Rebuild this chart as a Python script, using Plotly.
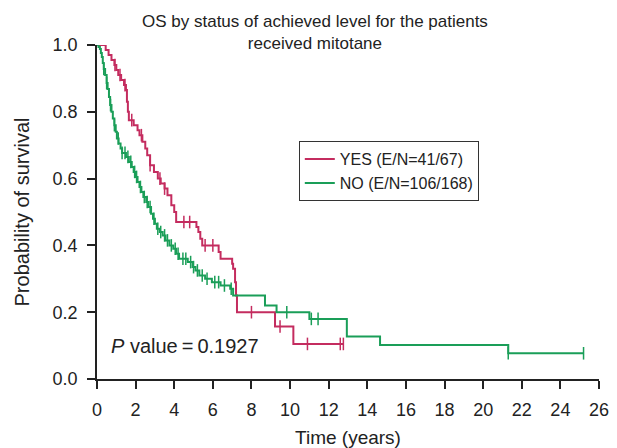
import plotly.graph_objects as go

# ---- data ----
yes_times = [0, 0.45, 0.6, 0.75, 0.9, 1.0, 1.1, 1.25, 1.4, 1.5, 1.55, 1.6, 1.65, 1.9, 2.1, 2.2, 2.35,
             2.5, 2.6, 2.75, 2.95, 3.15, 3.3, 3.5, 3.65, 3.85, 4.0, 4.1, 5.15, 5.25, 5.35, 5.45,
             6.3, 6.4, 7.0, 7.05, 7.15, 7.2, 7.25, 9.22, 10.17, 12.76]
yes_surv = [1.0, 0.985, 0.97, 0.955, 0.94, 0.925, 0.91, 0.895, 0.88, 0.865, 0.83, 0.80, 0.775, 0.76,
            0.745, 0.73, 0.71, 0.69, 0.67, 0.64, 0.62, 0.60, 0.585, 0.57, 0.55, 0.52, 0.50, 0.47,
            0.455, 0.44, 0.42, 0.40, 0.38, 0.36, 0.345, 0.33, 0.29, 0.25, 0.20, 0.157, 0.105, 0.105]
yes_censor = [0.93, 1.19, 1.45, 1.8, 2.3, 2.75, 3.26, 3.5, 4.5, 4.8, 5.6, 6.0, 8.0, 9.48, 10.9, 12.6, 12.76]

no_times = [0, 0.08, 0.15, 0.2, 0.25, 0.3, 0.35, 0.42, 0.5, 0.55, 0.62, 0.68, 0.75, 0.82, 0.9, 0.97,
            1.03, 1.12, 1.22, 1.3, 1.5, 1.65, 1.8, 1.9, 2.0, 2.1, 2.2, 2.3, 2.4, 2.55, 2.65, 2.8,
            2.9, 3.0, 3.1, 3.25, 3.4, 3.55, 3.75, 3.95, 4.1, 4.25, 4.7, 4.95, 5.1, 5.3, 5.6, 5.95,
            6.4, 6.9, 7.05, 8.7, 9.3, 11.0, 12.94, 14.66, 21.3, 25.2]
no_surv = [1.0, 0.994, 0.988, 0.976, 0.964, 0.946, 0.928, 0.91, 0.886, 0.868, 0.844, 0.82, 0.80, 0.78,
           0.76, 0.74, 0.72, 0.705, 0.69, 0.677, 0.665, 0.65, 0.635, 0.62, 0.605, 0.59, 0.575, 0.56,
           0.545, 0.53, 0.515, 0.495, 0.48, 0.465, 0.45, 0.44, 0.43, 0.415, 0.40, 0.39, 0.375, 0.36,
           0.35, 0.335, 0.325, 0.31, 0.30, 0.29, 0.28, 0.27, 0.25, 0.22, 0.20, 0.18, 0.127, 0.102,
           0.077, 0.077]
no_censor = [0.35, 0.5, 0.7, 0.9, 1.1, 1.3, 1.45, 1.6, 1.75, 1.95, 2.05, 2.25, 2.45, 2.6, 2.75, 2.95,
             3.15, 3.3, 3.5, 3.65, 3.85, 4.05, 4.2, 4.45, 4.6, 4.85, 5.0, 5.2, 5.45, 5.7, 6.1, 6.3,
             6.6, 6.95, 9.83, 11.1, 11.45, 21.3, 25.2]

x_ticks = list(range(0, 27, 2))
y_ticks = [0.0, 0.2, 0.4, 0.6, 0.8, 1.0]
y_ticklabels = ["0.0", "0.2", "0.4", "0.6", "0.8", "1.0"]

YES_COLOR = "#c42c5f"
NO_COLOR = "#1a9e58"


def surv_at(t, times, surv):
    s = surv[0]
    for ti, si in zip(times, surv):
        if ti <= t:
            s = si
        else:
            break
    return s


fig = go.Figure()
for name, times, surv, cens, col in [
    ("YES (E/N=41/67)", yes_times, yes_surv, yes_censor, YES_COLOR),
    ("NO (E/N=106/168)", no_times, no_surv, no_censor, NO_COLOR),
]:
    fig.add_trace(go.Scatter(x=times, y=surv, mode="lines", line=dict(color=col, width=2, shape="hv"),
                             name=name, showlegend=True))
    fig.add_trace(go.Scatter(x=cens, y=[surv_at(t, times, surv) for t in cens], mode="markers",
                             marker=dict(symbol="line-ns-open", size=9, color=col,
                                         line=dict(color=col, width=1.5)),
                             showlegend=False, hoverinfo="skip", cliponaxis=False))

font_family = "Liberation Sans, Arial, sans-serif"

# the page body adds an 8px offset, so the figure is sized to fit the 617x448 window
fig.update_layout(
    width=609, height=440,
    margin=dict(l=89, r=18, t=37, b=69),
    paper_bgcolor="white", plot_bgcolor="white",
    font=dict(family=font_family, size=18, color="#222"),
    legend=dict(x=0.402, y=0.712, xanchor="left", yanchor="top", bordercolor="#333", borderwidth=1,
                bgcolor="white", font=dict(size=16, color="#222"), tracegroupgap=0,
                itemwidth=30),
    showlegend=True,
)
fig.update_xaxes(range=[0, 26], tickvals=x_ticks, ticks="outside", ticklen=8, tickwidth=1.5,
                 tickcolor="#222", showline=True, linecolor="#222", linewidth=1.5, showgrid=False,
                 zeroline=False, tickfont=dict(size=18), automargin=False, ticklabelstandoff=6,
                 title=dict(text="Time (years)", font=dict(size=19), standoff=11))
fig.update_yaxes(range=[0, 1.0], tickvals=y_ticks, ticktext=y_ticklabels, ticks="outside", ticklen=8,
                 tickwidth=1.5, tickcolor="#222", showline=True, linecolor="#222", linewidth=1.5,
                 showgrid=False, zeroline=False, tickfont=dict(size=18), automargin=False,
                 ticklabelstandoff=6,
                 title=dict(text="Probability of survival", font=dict(size=20), standoff=18))

fig.add_annotation(x=0.434, y=1.037, xref="paper", yref="paper", xanchor="center", yanchor="middle",
                   text="OS by status of achieved level for the patients<br>received mitotane",
                   showarrow=False, font=dict(size=17, color="#222"))

fig.add_annotation(x=0.6, y=0.10, xref="x", yref="y", xanchor="left", yanchor="middle",
                   text="<i>P</i> value\u2009=\u20090.1927", showarrow=False,
                   font=dict(size=20, color="#222"))

fig.write_html("out.html")
